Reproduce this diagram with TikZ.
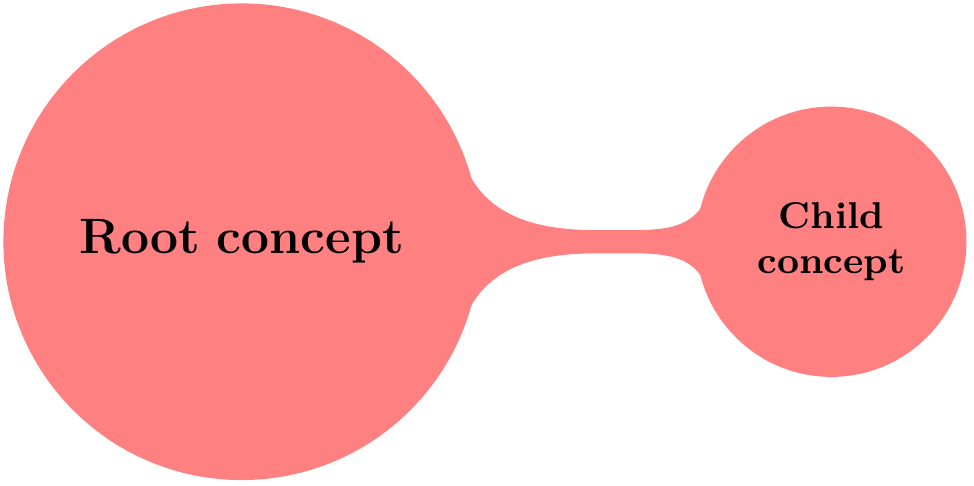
\documentclass[tikz,border=0pt]{standalone}
\usepackage{tikz}
\usetikzlibrary{mindmap}

\begin{document}
\begin{tikzpicture}[mindmap, concept color=red!50]

\useasboundingbox (-2.05,-2.07) rectangle (6.21,2.05);

\node (root) [concept] {\textbf{Root concept}}
  child [grow=0] {node (child) [concept] {\textbf{Child concept}}};

\end{tikzpicture}
\end{document}
